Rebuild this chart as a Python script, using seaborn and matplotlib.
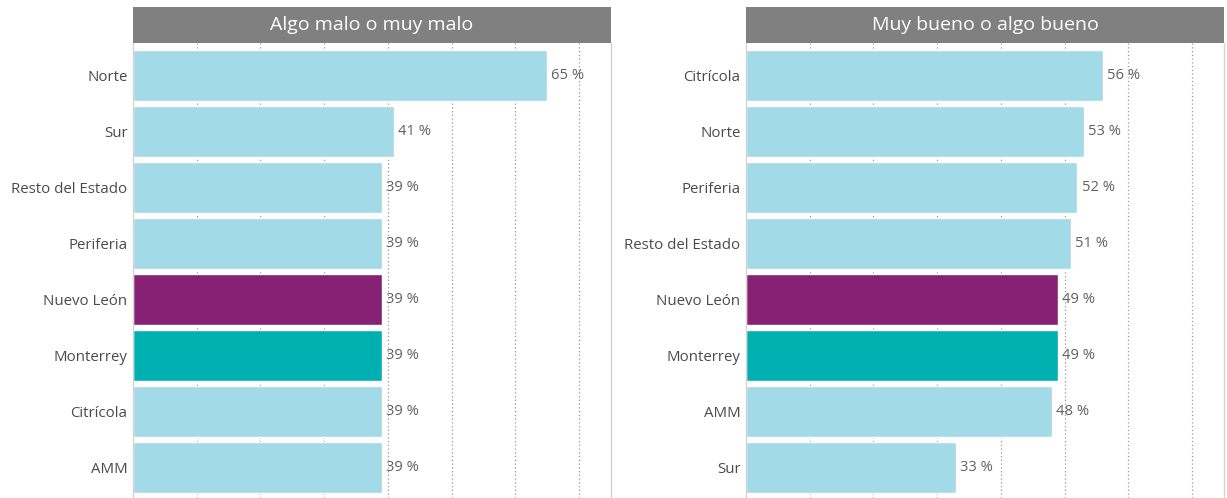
import matplotlib
matplotlib.use("Agg")
import matplotlib.pyplot as plt
import seaborn as sns
import pandas as pd

# datos
cats_malo = ['Norte', 'Sur', 'Resto del Estado', 'Periferia', 'Nuevo León', 'Monterrey', 'Citrícola', 'AMM']
vals_malo = [65, 41, 39, 39, 39, 39, 39, 39]
cats_bueno = ['Citrícola', 'Norte', 'Periferia', 'Resto del Estado', 'Nuevo León', 'Monterrey', 'AMM', 'Sur']
vals_bueno = [56, 53, 52, 51, 49, 49, 48, 33]
titulos = ['Algo malo o muy malo', 'Muy bueno o algo bueno']

azul = '#A2DAE8'
colores = {c: azul for c in set(cats_malo)}
colores['Nuevo León'] = '#862173'
colores['Monterrey'] = '#00B0B0'

sns.set_style('white')
plt.rcParams['font.family'] = ['Open Sans', 'DejaVu Sans']

fig = plt.figure(figsize=(12.27, 4.98), dpi=100)
W, H = 1227, 498

paneles = [(133, cats_malo, vals_malo, titulos[0]), (746, cats_bueno, vals_bueno, titulos[1])]
for x0, cats, vals, titulo in paneles:
    df = pd.DataFrame({'cat': cats, 'val': vals})
    ax = fig.add_axes([x0 / W, 0, 478 / W, 455 / H])
    sns.barplot(data=df, x='val', y='cat', hue='cat', palette=colores, legend=False,
                orient='h', width=0.91, saturation=1, ax=ax, zorder=2)
    ax.set_xlim(0, 75)
    ax.set_ylim(7.545, -0.58)
    ax.set_xticks(range(10, 80, 10))
    ax.xaxis.grid(True, linestyle=(0, (1, 2)), color='#9a9a9a', linewidth=0.9, zorder=0)
    ax.set_axisbelow(True)
    ax.tick_params(axis='x', labelbottom=False, length=0)
    ax.tick_params(axis='y', length=0, labelsize=10.8, labelcolor='#4a4a4a', pad=4)
    ax.set_xlabel('')
    ax.set_ylabel('')
    for s in ['top', 'bottom']:
        ax.spines[s].set_visible(False)
    for s in ['left', 'right']:
        ax.spines[s].set_color('#d4d4d4')
        ax.spines[s].set_linewidth(1)
    for cont in ax.containers:
        ax.bar_label(cont, fmt='%g %%', padding=3, fontsize=10.6, color='#606060')

    # encabezado
    hax = fig.add_axes([x0 / W, (H - 43) / H, 478 / W, 36 / H])
    hax.set_facecolor('#808080')
    hax.set_xticks([])
    hax.set_yticks([])
    for s in hax.spines.values():
        s.set_visible(False)
    hax.text(0.5, 0.5, titulo, ha='center', va='center', color='white', fontsize=14,
             transform=hax.transAxes)

fig.savefig('out.png', dpi=100, facecolor='white')
